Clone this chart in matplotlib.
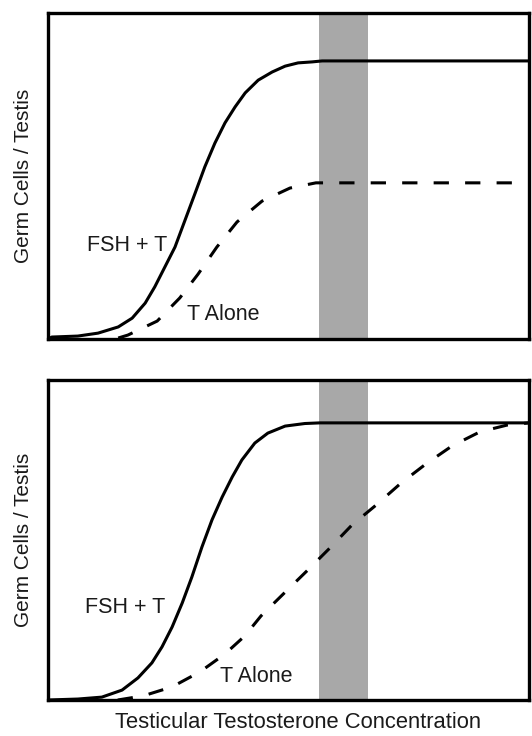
import matplotlib
matplotlib.use("Agg")
import matplotlib.pyplot as plt

plt.rcParams['font.family'] = ['Liberation Sans', 'DejaVu Sans']

# ---- data (arbitrary units 0-100) ----
band_range = [56.3, 66.5]

top_fsh_x = [0, 0.8, 6.2, 10.4, 14.6, 17.5, 20.2, 22.2, 24.3, 26.4, 28.5, 30.6, 32.6, 34.7,
             36.8, 38.9, 41.0, 43.7, 46.6, 49.3, 52.0, 54.9, 57.0, 100]
top_fsh_y = [0, 0.6, 0.9, 1.8, 3.7, 6.4, 11.0, 16.0, 22.1, 28.2, 36.5, 44.8, 52.8, 60.1,
             66.3, 71.2, 75.5, 79.4, 81.9, 83.7, 84.7, 85.0, 85.3, 85.3]

top_t_x = [14.6, 16.6, 22.7, 27.4, 31.2, 35.1, 39.3, 44.5, 50.3, 55.7, 100]
top_t_y = [0.3, 1.2, 5.5, 12.6, 19.9, 28.2, 35.9, 42.3, 46.3, 47.9, 47.9]

bot_fsh_x = [0, 6.2, 11.2, 15.4, 18.7, 21.6, 23.7, 25.8, 27.9, 29.9, 32.0, 34.1, 36.2, 38.3,
             40.3, 43.0, 45.7, 49.3, 53.4, 56.5, 100]
bot_fsh_y = [0, 0.3, 0.9, 3.1, 6.9, 11.6, 16.6, 22.8, 30.3, 38.4, 47.8, 56.3, 63.4, 69.7,
             75.0, 80.3, 83.4, 85.6, 86.4, 86.6, 86.6]

bot_t_x = [14.5, 19.8, 25.8, 31.6, 36.8, 40.9, 44.3, 49.1, 53.8, 58.6, 63.2, 68.2, 73.4,
           78.6, 84.0, 89.8, 95.4, 100]
bot_t_y = [0, 1.3, 4.1, 8.8, 14.4, 20.0, 26.3, 33.4, 40.3, 47.5, 54.7, 60.9, 67.8,
           73.8, 79.4, 83.8, 85.9, 86.6]

label_fsh = "FSH + T"
label_t = "T Alone"
ylabel = "Germ Cells / Testis"
xlabel = "Testicular Testosterone Concentration"

W, H = 532, 736
fig = plt.figure(figsize=(W / 100, H / 100), dpi=100)

ax_top = fig.add_axes([48 / W, (H - 339) / H, 481 / W, 326 / H])
ax_bot = fig.add_axes([48 / W, (H - 700) / H, 481 / W, 320 / H])

lw = 2.2
txt_col = '#1a1a1a'
panels = [
    (ax_top, top_fsh_x, top_fsh_y, top_t_x, top_t_y, (8.1, 28.8), (28.9, 7.4)),
    (ax_bot, bot_fsh_x, bot_fsh_y, bot_t_x, bot_t_y, (7.7, 28.8), (35.8, 7.2)),
]
for ax, fx, fy, tx, ty, fpos, tpos in panels:
    ax.set_xlim(0, 100)
    ax.set_ylim(0, 100)
    ax.axvspan(band_range[0], band_range[1], color='#a8a8a8', lw=0, zorder=1)
    ax.plot(fx, fy, color='black', lw=lw, solid_capstyle='butt', solid_joinstyle='round',
            zorder=3, clip_on=False)
    ax.plot(tx, ty, color='black', lw=lw, linestyle=(0, (5.0, 5.3)), zorder=3, clip_on=False)
    ax.text(fpos[0], fpos[1], label_fsh, fontsize=15.5, color=txt_col, va='center', ha='left')
    ax.text(tpos[0], tpos[1], label_t, fontsize=15.5, color=txt_col, va='center', ha='left')
    ax.set_xticks([])
    ax.set_yticks([])
    for s in ax.spines.values():
        s.set_linewidth(2.4)
        s.set_zorder(4)
    ax.set_ylabel(ylabel, fontsize=15, color=txt_col, labelpad=11)

fig.text(298 / W, 1 - 723 / H, xlabel, fontsize=15.8, color=txt_col,
         ha='center', va='center')

fig.savefig("out.png", dpi=100)
